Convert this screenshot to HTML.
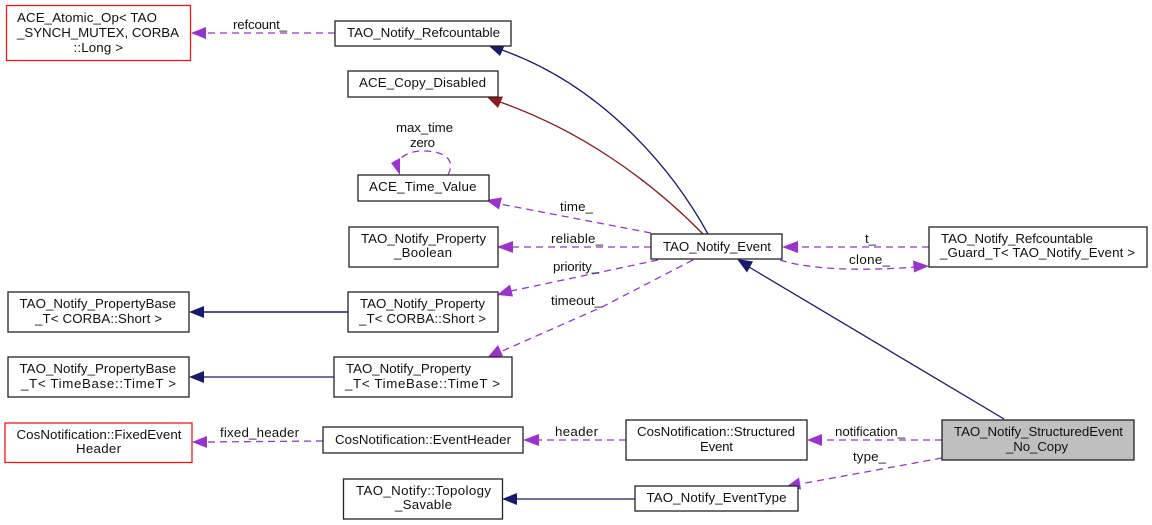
<!DOCTYPE html>
<html>
<head>
<meta charset="utf-8">
<style>
html,body{margin:0;padding:0;background:#fff;width:1152px;height:525px;overflow:hidden}
svg{display:block}
text{font-family:"Liberation Sans",sans-serif;font-size:13.3px;fill:#111}
rect{fill:#fff;stroke:#222;stroke-width:1.3}
rect.r{stroke:#f01818}
rect.g{fill:#bfbfbf}
.d{fill:none;stroke:#9a32cd;stroke-width:1.3;stroke-dasharray:7 5}
.b{fill:none;stroke:#191970;stroke-width:1.3}
.f{fill:none;stroke:#8b1a1a;stroke-width:1.3}
.ad{fill:#9a32cd}
.ab{fill:#191970}
.af{fill:#8b1a1a}
</style>
</head>
<body>
<svg width="1152" height="525" viewBox="0 0 1152 525" xmlns="http://www.w3.org/2000/svg">
<!-- edges -->
<path class="d" d="M335,33 L205,33"/>
<polygon class="ad" points="191,33 206,27 206,39"/>
<path class="b" d="M708,234 C670,165 600,85 502,50"/>
<polygon class="ab" points="489,46 505,44.500 500,56"/>
<path class="f" d="M703,234 C650,180 580,130 500,102"/>
<polygon class="af" points="487,97 503,96.500 498,108"/>
<path class="d" d="M448,175 C456,160 445,151 423,151 C411,151 402,155 398,162"/>
<polygon class="ad" points="400,175 391,163 400,158"/>
<path class="d" d="M651,233 L500,204"/>
<polygon class="ad" points="486,200 502,197.500 499,209.500"/>
<path class="d" d="M651,247 L512,247"/>
<polygon class="ad" points="497,247 513,241 513,253"/>
<path class="d" d="M658,260 L511,291"/>
<polygon class="ad" points="497,295 510,284.500 513,296.500"/>
<path class="d" d="M693,260 L602,307 L500,352"/>
<polygon class="ad" points="487,358 498,345 503,356"/>
<path class="b" d="M1004,419 L749,267"/>
<polygon class="ab" points="737,259 753,261.500 747,272.500"/>
<path class="d" d="M929,247 L796,247"/>
<polygon class="ad" points="782,247 798,241 798,253"/>
<path class="d" d="M780,260 C805,268 850,272 916,267"/>
<polygon class="ad" points="929,266 914,272.500 913,260.500"/>
<path class="d" d="M942,440 L821,440"/>
<polygon class="ad" points="807,440 822,434 822,446"/>
<path class="d" d="M942,458 L800,484"/>
<polygon class="ad" points="786,487 799,477.500 801,489.500"/>
<path class="d" d="M626,440 L537,440"/>
<polygon class="ad" points="523,440 539,434 539,446"/>
<path class="d" d="M323,441 L206,442"/>
<polygon class="ad" points="192,442 207,436 207,448"/>
<path class="b" d="M348,312 L203,312" style="stroke-width:1.500"/>
<polygon class="ab" points="189,312 204,306 204,318"/>
<path class="b" d="M334,377 L203,377"/>
<polygon class="ab" points="189,377 204,371 204,383"/>
<path class="b" d="M635,499 L516,499"/>
<polygon class="ab" points="502,499 517,493 517,505"/>
<!-- boxes -->
<rect class="r" x="6.500" y="5.500" width="184" height="55"/>
<rect x="335" y="21" width="176" height="25"/>
<rect x="348" y="71" width="150" height="26"/>
<rect x="358" y="175" width="131" height="26"/>
<rect x="349" y="227" width="149" height="40"/>
<rect x="8" y="292" width="181" height="40"/>
<rect x="348" y="292" width="150" height="40"/>
<rect x="8" y="357" width="181" height="40"/>
<rect x="334" y="357" width="178" height="40"/>
<rect class="r" x="5" y="423" width="187" height="39.500"/>
<rect x="323" y="427" width="200" height="26"/>
<rect x="343.500" y="479" width="159" height="40"/>
<rect x="651" y="234" width="131" height="25"/>
<rect x="929" y="227" width="218" height="40"/>
<rect x="626" y="420" width="181" height="40"/>
<rect class="g" x="942" y="420" width="192" height="40"/>
<rect x="635" y="486" width="163" height="25"/>
<!-- box labels -->
<text x="17" y="22" textLength="140">ACE_Atomic_Op&lt; TAO</text>
<text x="17" y="37" textLength="162">_SYNCH_MUTEX, CORBA</text>
<text x="73.500" y="52" textLength="49.500">::Long &gt;</text>
<text x="347" y="37" textLength="153">TAO_Notify_Refcountable</text>
<text x="359" y="87" textLength="127">ACE_Copy_Disabled</text>
<text x="369" y="191" textLength="107.500">ACE_Time_Value</text>
<text x="361" y="243" textLength="125">TAO_Notify_Property</text>
<text x="394" y="257" textLength="58">_Boolean</text>
<text x="19.500" y="308" textLength="156.500">TAO_Notify_PropertyBase</text>
<text x="35" y="323" textLength="127">_T&lt; CORBA::Short &gt;</text>
<text x="360" y="308" textLength="125">TAO_Notify_Property</text>
<text x="359" y="323" textLength="127">_T&lt; CORBA::Short &gt;</text>
<text x="19.500" y="373" textLength="156.500">TAO_Notify_PropertyBase</text>
<text x="21" y="388" textLength="155">_T&lt; TimeBase::TimeT &gt;</text>
<text x="346" y="373" textLength="125">TAO_Notify_Property</text>
<text x="345" y="388" textLength="155">_T&lt; TimeBase::TimeT &gt;</text>
<text x="16.500" y="439" textLength="165">CosNotification::FixedEvent</text>
<text x="76" y="453" textLength="45">Header</text>
<text x="335" y="444" textLength="176">CosNotification::EventHeader</text>
<text x="356" y="495" textLength="135">TAO_Notify::Topology</text>
<text x="395" y="509" textLength="57">_Savable</text>
<text x="663" y="251" textLength="108">TAO_Notify_Event</text>
<text x="941" y="243" textLength="152">TAO_Notify_Refcountable</text>
<text x="940" y="257" textLength="195">_Guard_T&lt; TAO_Notify_Event &gt;</text>
<text x="637" y="436" textLength="158">CosNotification::Structured</text>
<text x="700" y="451" textLength="33">Event</text>
<text x="954" y="436" textLength="169">TAO_Notify_StructuredEvent</text>
<text x="1006" y="451" textLength="62">_No_Copy</text>
<text x="646.500" y="502" textLength="140">TAO_Notify_EventType</text>
<!-- edge labels -->
<text x="233" y="29" textLength="54">refcount_</text>
<text x="396" y="132" textLength="57">max_time</text>
<text x="410" y="147" textLength="25">zero</text>
<text x="560" y="211" textLength="33">time_</text>
<text x="551" y="243" textLength="52">reliable_</text>
<text x="553" y="271" textLength="46">priority_</text>
<text x="551" y="305" textLength="51">timeout_</text>
<text x="865" y="243" textLength="11">t_</text>
<text x="849" y="264" textLength="41">clone_</text>
<text x="835" y="436" textLength="70">notification_</text>
<text x="853" y="461" textLength="33">type_</text>
<text x="555" y="436" textLength="43">header</text>
<text x="220" y="437" textLength="79">fixed_header</text>
</svg>
</body>
</html>
